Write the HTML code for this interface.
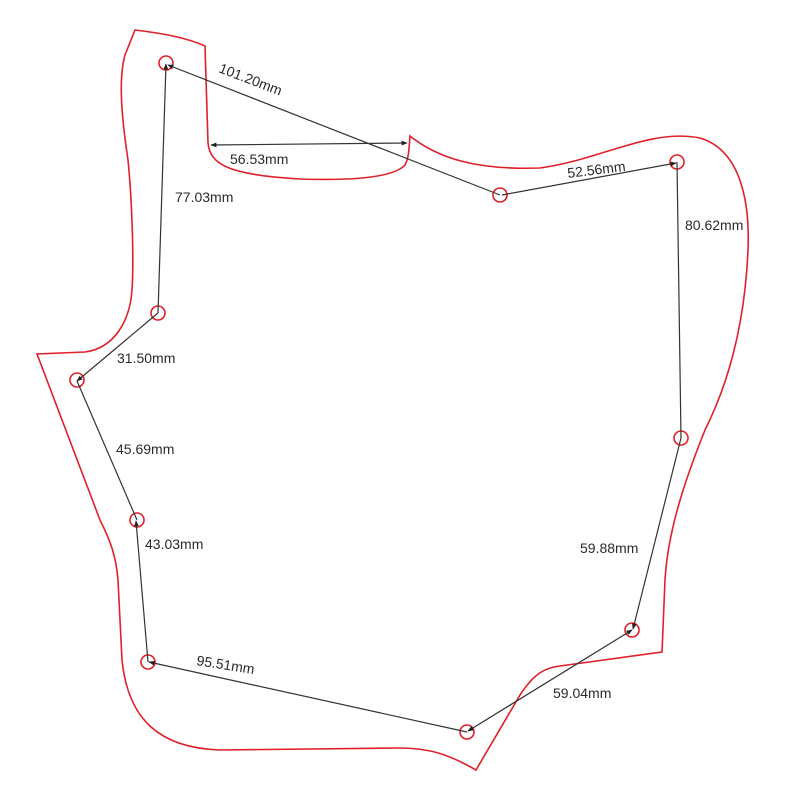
<!DOCTYPE html>
<html><head><meta charset="utf-8"><style>
html,body{margin:0;padding:0;background:#fff;}
svg{display:block}
text{font-family:"Liberation Sans",sans-serif;font-size:14px;fill:#2a2a2a;}
</style></head><body>
<svg width="800" height="800" viewBox="0 0 800 800" xmlns="http://www.w3.org/2000/svg">
<defs>
<marker id="a" viewBox="0 0 10 10" refX="9" refY="5" markerWidth="5" markerHeight="5" orient="auto-start-reverse">
<path d="M0,1 L10,5 L0,9 z" fill="#222"/></marker>
</defs>
<path d="M135,30 C160,33 185,37 205,46 L208,143 C210,165 230,175 300,179 C360,181 395,176 405,165 C409,158 409,148 410,136 C440,160 480,170 540,168 C600,160 650,128 700,138 C740,150 750,200 748,250 C745,320 730,380 705,430 C685,480 668,530 665,580 L662,652 L560,666 C540,668 530,680 520,695 L476,770 C450,755 430,748 400,748 L220,750 C160,748 128,720 122,660 L118,580 C116,555 110,540 100,520 L37,354 L85,352 C115,348 130,320 132,290 C134,260 132,200 128,160 C122,120 118,80 125,55 Z" fill="none" stroke="#e0202a" stroke-width="1.6"/>
<g fill="none" stroke="#e0202a" stroke-width="1.6">
<circle cx="166" cy="63" r="7"/><circle cx="158" cy="313" r="7"/><circle cx="77" cy="380" r="7"/>
<circle cx="137" cy="520" r="7"/><circle cx="148" cy="662" r="7"/><circle cx="467" cy="732" r="7"/>
<circle cx="632" cy="630" r="7"/><circle cx="681" cy="438" r="7"/><circle cx="677" cy="162" r="7"/>
<circle cx="500" cy="195" r="7"/>
</g>
<g stroke="#333" stroke-width="1.2" fill="none">
<line x1="500" y1="195" x2="168" y2="65" marker-end="url(#a)"/>
<line x1="211" y1="145" x2="407" y2="143" marker-start="url(#a)" marker-end="url(#a)"/>
<line x1="502" y1="195" x2="676" y2="163" marker-end="url(#a)"/>
<line x1="677" y1="162" x2="681" y2="438"/>
<line x1="681" y1="438" x2="633" y2="629" marker-end="url(#a)"/>
<line x1="632" y1="630" x2="468" y2="731" marker-start="url(#a)" marker-end="url(#a)"/>
<line x1="467" y1="732" x2="149" y2="662" marker-end="url(#a)"/>
<line x1="148" y1="662" x2="136" y2="521" marker-end="url(#a)"/>
<line x1="137" y1="520" x2="77" y2="381"/>
<line x1="158" y1="313" x2="77" y2="381" marker-end="url(#a)"/>
<line x1="158" y1="313" x2="166" y2="64" marker-end="url(#a)"/>
</g>
<text x="218" y="72" transform="rotate(21 218 72)">101.20mm</text>
<text x="230" y="164">56.53mm</text>
<text x="568" y="178" transform="rotate(-7 568 178)">52.56mm</text>
<text x="685" y="230">80.62mm</text>
<text x="175" y="202">77.03mm</text>
<text x="117" y="363">31.50mm</text>
<text x="116" y="454">45.69mm</text>
<text x="145" y="549">43.03mm</text>
<text x="196" y="665" transform="rotate(9 196 665)">95.51mm</text>
<text x="580" y="553">59.88mm</text>
<text x="553" y="698">59.04mm</text>
</svg>
</body></html>
